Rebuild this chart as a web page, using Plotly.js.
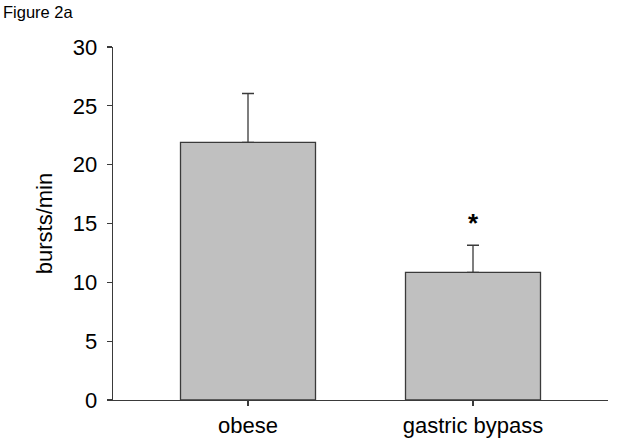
<!DOCTYPE html>
<html>
<head>
<meta charset="utf-8">
<script src="https://cdn.plot.ly/plotly-3.0.1.min.js"></script>
<style>html,body{margin:0;padding:0;background:#fff;}#chart{width:624px;height:443px;}</style>
</head>
<body>
<div id="chart"></div>
<script>
var categories = ["obese", "gastric bypass"];
var burstsPerMin = [21.9, 10.85];
var sem = [4.15, 2.3];
var significance = ["", "*"];
var yTicks = [0, 5, 10, 15, 20, 25, 30];

var font = "Liberation Sans, Arial, sans-serif";
var lineCol = "#3a3a3a";

var trace = {
  type: "bar",
  x: categories,
  y: burstsPerMin,
  width: 0.6,
  marker: {color: "#c0c0c0", line: {color: lineCol, width: 1.3}},
  error_y: {type: "data", array: sem, symmetric: false, arrayminus: [0, 0], visible: true,
            color: lineCol, thickness: 1.3, width: 6}
};

var annotations = [];
for (var i = 0; i < categories.length; i++) {
  if (significance[i]) {
    annotations.push({x: categories[i], y: burstsPerMin[i] + sem[i], xref: "x", yref: "y",
      text: "<b>" + significance[i] + "</b>", showarrow: false, yanchor: "bottom", yshift: 5,
      font: {family: font, size: 26, color: "#000"}});
  }
}
annotations.push({x: 0, y: 1, xref: "paper", yref: "paper", xanchor: "left", yanchor: "top",
  xshift: -112, yshift: 46, text: "Figure 2a", showarrow: false,
  font: {family: font, size: 16.5, color: "#000"}});

var layout = {
  width: 624, height: 443,
  margin: {l: 113, r: 16, t: 47, b: 43},
  paper_bgcolor: "#fff", plot_bgcolor: "#fff",
  showlegend: false,
  font: {family: font, color: "#000"},
  xaxis: {
    range: [-0.6, 1.6], showline: true, linecolor: lineCol, linewidth: 1.3,
    ticks: "outside", ticklen: 5, tickcolor: lineCol, tickwidth: 1.3,
    tickfont: {family: font, size: 22, color: "#000"}, showgrid: false, zeroline: false,
    fixedrange: true
  },
  yaxis: {
    range: [0, 30], tickvals: yTicks, showline: true, linecolor: lineCol, linewidth: 1.3,
    ticks: "outside", ticklen: 5, tickcolor: lineCol, tickwidth: 1.3, ticklabelstandoff: 5,
    tickfont: {family: font, size: 22, color: "#000"}, showgrid: false, zeroline: false,
    title: {text: "bursts/min", font: {family: font, size: 22, color: "#000"}, standoff: 14},
    fixedrange: true
  },
  annotations: annotations
};

Plotly.newPlot("chart", [trace], layout, {displayModeBar: false, staticPlot: true});
</script>
</body>
</html>
